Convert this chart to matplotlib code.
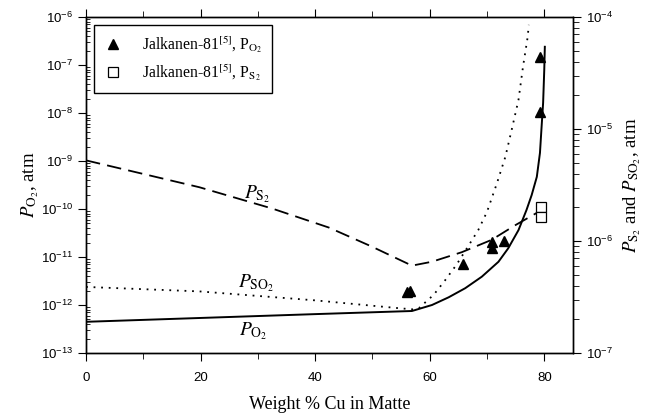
import numpy as np
import matplotlib
matplotlib.use('Agg')
import matplotlib.pyplot as plt

plt.rcParams['font.family'] = ['Liberation Sans', 'DejaVu Sans']
plt.rcParams['mathtext.fontset'] = 'custom'
plt.rcParams['mathtext.rm'] = 'Liberation Sans'
plt.rcParams['mathtext.it'] = 'Liberation Sans:italic'

# P_O2 model curve (left axis), log10 values
po2_cu = [0, 20, 40, 56.9, 60.4, 63.3, 66.2, 69.1, 72.0, 73.7, 75.5, 76.9, 77.8, 78.7,
          79.25, 79.5, 79.8, 80.0, 80.1]
po2_log = [-12.35, -12.27, -12.19, -12.125, -12.0, -11.84, -11.65, -11.41, -11.10, -10.82,
           -10.44, -10.02, -9.71, -9.33, -8.83, -8.35, -7.79, -7.10, -6.62]

# P_SO2 model curve (right axis)
pso2_cu = [0, 19.8, 40, 54.6, 57, 58.1, 60.7, 62.7, 64.7, 66.8, 68.5, 70.0, 71.7, 73.2,
           74.3, 75.5, 76.3, 77.1, 77.3]
pso2_log = [-6.41, -6.45, -6.53, -6.60, -6.61, -6.60, -6.48, -6.35, -6.21, -6.04, -5.90,
            -5.74, -5.49, -5.25, -5.01, -4.74, -4.44, -4.18, -4.07]

# P_S2 model curve (right axis)
ps2_cu = [0, 19.8, 32.5, 42.4, 49.9, 56.9, 60.4, 65.6, 70.8, 74.9, 79.0]
ps2_log = [-5.28, -5.52, -5.71, -5.88, -6.05, -6.22, -6.185, -6.10, -5.99, -5.86, -5.74]

# Jalkanen-81 data
tri_cu = [56.0, 56.6, 65.9, 70.8, 70.8, 73.0, 79.3, 79.3]
tri_log = [-11.73, -11.71, -11.15, -10.69, -10.81, -10.67, -7.98, -6.83]
sq_cu = [79.5, 79.5]
sq_log = [-5.70, -5.79]

fig = plt.figure(figsize=(6.54, 4.15), dpi=100)
ax = fig.add_axes([0.1315, 0.1494, 0.7445, 0.8096])
ax2 = ax.twinx()

ax.plot(po2_cu, 10 ** np.array(po2_log), color='black', lw=1.4)
ax2.plot(pso2_cu, 10 ** np.array(pso2_log), color='black', lw=1.3, linestyle=(0, (1, 3.2)))
ax2.plot(ps2_cu, 10 ** np.array(ps2_log), color='black', lw=1.3, linestyle=(0, (8, 4)))

h1, = ax.plot(tri_cu, 10 ** np.array(tri_log), linestyle='none', marker='^', ms=7,
              color='black', label=r'Jalkanen-81$^{[5]}$, P$_{\mathrm{O}_2}$')
h2, = ax2.plot(sq_cu, 10 ** np.array(sq_log), linestyle='none', marker='s', ms=6.5,
               mfc='white', mec='black', mew=0.9,
               label=r'Jalkanen-81$^{[5]}$, P$_{\mathrm{S}_2}$')

ax.set_xlim(0, 85)
ax.set_yscale('log')
ax.set_ylim(1e-13, 1e-6)
ax2.set_yscale('log')
ax2.set_ylim(1e-7, 1e-4)

ax.set_xticks([0, 20, 40, 60, 80])
ax.set_xticks([10, 30, 50, 70], minor=True)
ax.tick_params(axis='x', which='major', direction='out', length=6, top=True, labelsize=9.5, pad=8)
ax.tick_params(axis='x', which='minor', direction='out', length=4, top=True)
ax.tick_params(axis='y', which='major', direction='out', length=6, labelsize=9.5)
ax.tick_params(axis='y', which='minor', direction='in', length=3)
ax2.tick_params(axis='y', which='major', direction='out', length=6, labelsize=9.5)
ax2.tick_params(axis='y', which='minor', direction='out', length=4)

for a in (ax, ax2):
    for s in a.spines.values():
        s.set_linewidth(1.0)

serif = ['Liberation Serif', 'DejaVu Serif']
ax.set_xlabel('Weight % Cu in Matte', fontsize=13, fontfamily=serif, labelpad=8)
ax.set_ylabel(r'$P_{\mathrm{O}_2}$, atm', fontsize=13.5, fontfamily=serif, math_fontfamily='stix', labelpad=0)
ax2.set_ylabel(r'$P_{\mathrm{S}_2}$ and $P_{\mathrm{SO}_2}$, atm', fontsize=13.5, fontfamily=serif,
               math_fontfamily='stix', rotation=90, labelpad=6)

# curve labels
ax.text(29.9, 10 ** -9.70, r'$P_{\mathrm{S}_2}$', fontsize=14, math_fontfamily='stix', ha='center', va='center')
ax.text(29.7, 10 ** -11.55, r'$P_{\mathrm{SO}_2}$', fontsize=14, math_fontfamily='stix', ha='center', va='center')
ax.text(29.2, 10 ** -12.55, r'$P_{\mathrm{O}_2}$', fontsize=14, math_fontfamily='stix', ha='center', va='center')

leg = ax.legend(handles=[h1, h2], loc='upper left', bbox_to_anchor=(0.016, 0.976),
                fancybox=False, edgecolor='black', framealpha=1, fontsize=11.3,
                handlelength=1.2, borderpad=0.6, labelspacing=0.45, handletextpad=1.3,
                borderaxespad=0)
leg.get_frame().set_linewidth(1.0)
for t in leg.get_texts():
    t.set_fontfamily(serif)
    t.set_math_fontfamily('stix')

fig.savefig('out.png', dpi=100)
